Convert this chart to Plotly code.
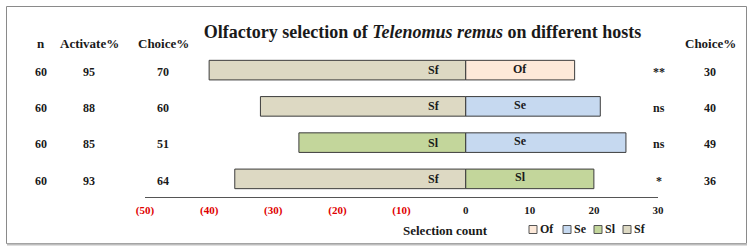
import plotly.graph_objects as go

# ---------------- data ----------------
left_hosts = ["Sf", "Sf", "Sl", "Sf"]
right_hosts = ["Of", "Se", "Se", "Sl"]
left_counts = [40, 32, 26, 36]
right_counts = [17, 21, 25, 20]
n_values = [60, 60, 60, 60]
activate_pct = [95, 88, 85, 93]
left_choice = [70, 60, 51, 64]
right_choice = [30, 40, 49, 36]
significance = ["**", "ns", "ns", "*"]
host_order = ["Of", "Se", "Sl", "Sf"]
tick_values = [-50, -40, -30, -20, -10, 0, 10, 20, 30]

host_colors = {"Of": "#FDE9D9", "Se": "#C6D9F0", "Sl": "#C3D69B", "Sf": "#DDD9C3"}

W, H = 753, 252
L, R, T, B = 145, 95, 52, 55
PW, PH = W - L - R, H - T - B

def px(xp):
    return (xp - L) / PW

def py(yp):
    return (H - B - yp) / PH

FONT = "Liberation Serif"
rows = list(range(len(left_hosts)))

fig = go.Figure()
for h in host_order:
    ys, xs = [], []
    for r in rows:
        if left_hosts[r] == h:
            ys.append(r); xs.append(-left_counts[r])
        if right_hosts[r] == h:
            ys.append(r); xs.append(right_counts[r])
    fig.add_trace(go.Bar(
        x=xs, y=ys, orientation="h", name=h, width=0.54,
        marker=dict(color=host_colors[h], line=dict(color="#3c3c3c", width=1)),
        showlegend=False, hoverinfo="x+name",
    ))

ann = []
bold = dict(family=FONT, weight="bold", color="#1a1a1a")

def add_text(x, y, text, size=12, xref="paper", yref="paper", xanchor="center"):
    ann.append(dict(x=x, y=y, xref=xref, yref=yref, text=text, showarrow=False,
                    xanchor=xanchor, yanchor="middle", font=dict(size=size, **bold)))

# bar labels
for r in rows:
    add_text(-5, r, left_hosts[r], xref="x", yref="y")
    add_text(8.5, r - 0.04, right_hosts[r], xref="x", yref="y")

# column headers
for xp, txt in [(41, "n"), (89, "Activate%"), (163, "Choice%"), (710, "Choice%")]:
    add_text(px(xp), py(44), txt, size=13)

# row values
for r in rows:
    for xp, txt in [(41, n_values[r]), (89, activate_pct[r]), (163, left_choice[r]),
                    (659, significance[r]), (710, right_choice[r])]:
        add_text(px(xp), r + 0.05, str(txt), yref="y")

# axis title
add_text(px(445), py(230), "Selection count", size=13)

# manual legend
shapes = []
leg_x = [533, 567, 598, 627]
for xp, h in zip(leg_x, host_order):
    shapes.append(dict(type="rect", xref="paper", yref="paper",
                       x0=px(xp - 4), x1=px(xp + 4), y0=py(233.5), y1=py(225.5),
                       fillcolor=host_colors[h], line=dict(color="#555555", width=1)))
    add_text(px(xp + 5), py(229.5), h, xanchor="left")

# frame
shapes.append(dict(type="rect", xref="paper", yref="paper",
                   x0=px(6.5), x1=px(746.5), y0=py(243.5), y1=py(6.5),
                   line=dict(color="#8a8a8a", width=1)))
shapes.append(dict(type="line", xref="paper", yref="paper",
                   x0=px(7), x1=px(747), y0=py(244.5), y1=py(244.5),
                   line=dict(color="#bdbdbd", width=2)))

ticktext = [f"<span style='color:#e00000'>({-v})</span>" if v < 0 else str(v) for v in tick_values]

fig.update_layout(
    width=W, height=H, margin=dict(l=L, r=R, t=T, b=B),
    paper_bgcolor="white", plot_bgcolor="white",
    barmode="overlay", showlegend=False,
    title=dict(text="Olfactory selection of <i>Telenomus remus</i> on different hosts",
               x=422.5 / W, xanchor="center", xref="container",
               y=1 - 32 / H, yanchor="middle", yref="container",
               font=dict(family=FONT, size=18, weight="bold", color="#1a1a1a")),
    xaxis=dict(range=[-50, 30], tickvals=tick_values, ticktext=ticktext,
               showline=True, linecolor="#555555", linewidth=1, ticks="outside",
               ticklen=3, tickcolor="rgba(0,0,0,0)",
               showgrid=False, zeroline=False, fixedrange=True,
               tickfont=dict(family=FONT, size=11, weight="bold", color="#1a1a1a")),
    yaxis=dict(range=[3.5, -0.5], showticklabels=False, showgrid=False,
               zeroline=False, showline=False, ticks=""),
    annotations=ann, shapes=shapes,
)

fig.write_html("out.html")
